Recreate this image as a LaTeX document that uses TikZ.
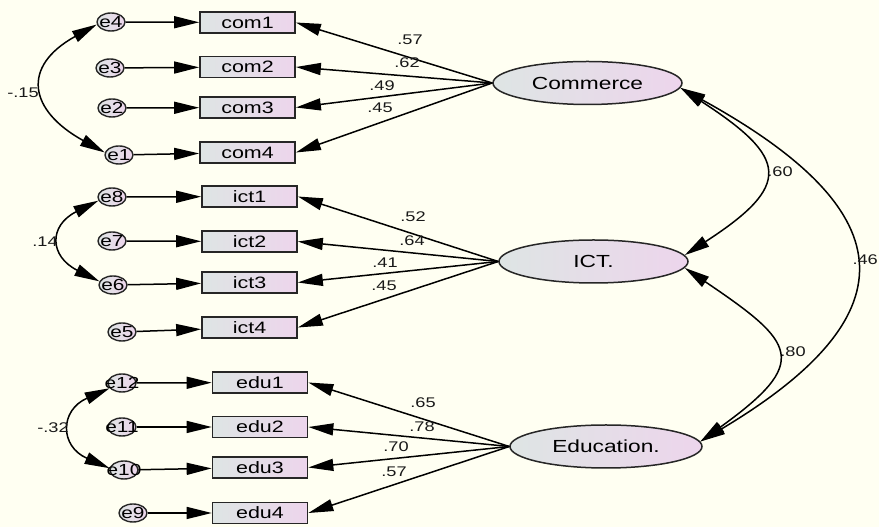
\documentclass[tikz,border=0pt]{standalone}
\usepackage{fontspec}
\setmainfont{Liberation Sans}[FakeStretch=1.3]
\usepackage{xcolor}
\usepackage{tikz}
\usetikzlibrary{shapes,arrows.meta}
\definecolor{bgcream}{RGB}{255,255,242}
\definecolor{fillgrey}{RGB}{222,229,228}
\definecolor{fillpink}{RGB}{237,213,236}
\tikzstyle{item} = [rectangle, draw=black!85, line width=1.7pt, left color=fillgrey, right color=fillpink, text=black, minimum width=95pt, minimum height=21pt, inner sep=0pt, font=\fontsize{16.5}{18}\selectfont]
\tikzstyle{latent} = [ellipse, draw=black!85, line width=1.5pt, left color=fillgrey, right color=fillpink, text=black, minimum width=189pt, minimum height=43pt, inner sep=0pt, font=\fontsize{17.5}{20}\selectfont]
\tikzstyle{err} = [ellipse, draw=black!85, line width=1.4pt, left color=fillgrey, right color=fillpink, text=black, minimum width=28pt, minimum height=18pt, inner sep=0pt, font=\fontsize{16}{18}\selectfont]
\tikzstyle{line} = [draw, line width=1.5pt, -{Triangle[length=25pt,width=12pt]}]
\tikzstyle{cov} = [draw, line width=1.5pt, {Triangle[length=25pt,width=12pt]}-{Triangle[length=25pt,width=12pt]}]
\tikzstyle{coef} = [text=black!90, inner sep=0pt, font=\fontsize{14}{16}\selectfont]

\begin{document}
\begin{tikzpicture}[x=1pt, y=1pt]
    \useasboundingbox (0,0) rectangle (879,527);
    \fill[bgcream] (0,0) rectangle (879,527);

    % commerce
    \node [item] (com1) at (247.5,504.5) {com1};
    \node [item] (com2) at (247.5,460) {com2};
    \node [item] (com3) at (247.5,419.5) {com3};
    \node [item] (com4) at (247.5,374.5) {com4};
    \node [err] (e4) at (111,505) {\makebox[0pt]{e4}};
    \node [err] (e3) at (110,459) {\makebox[0pt]{e3}};
    \node [err] (e2) at (112,419) {\makebox[0pt]{e2}};
    \node [err] (e1) at (119,372) {\makebox[0pt]{e1}};
    \node [latent] (commerce) at (587.5,444) {Commerce};

    % ict
    \node [item] (ict1) at (249.5,330.5) {ict1};
    \node [item] (ict2) at (249.5,285.5) {ict2};
    \node [item] (ict3) at (249.5,244.5) {ict3};
    \node [item] (ict4) at (249.5,199.5) {ict4};
    \node [err] (e8) at (112,330) {\makebox[0pt]{e8}};
    \node [err] (e7) at (112,286) {\makebox[0pt]{e7}};
    \node [err] (e6) at (113,242) {\makebox[0pt]{e6}};
    \node [err] (e5) at (122,195) {\makebox[0pt]{e5}};
    \node [latent] (ict) at (593.5,265.5) {ICT.};

    % education
    \node [item] (edu1) at (260,144.5) {edu1};
    \node [item] (edu2) at (260,100) {edu2};
    \node [item] (edu3) at (260,59.5) {edu3};
    \node [item] (edu4) at (260,14) {edu4};
    \node [err] (e12) at (122,144) {\makebox[0pt]{e12}};
    \node [err] (e11) at (122,100) {\makebox[0pt]{e11}};
    \node [err] (e10) at (124,57) {\makebox[0pt]{e10}};
    \node [err] (e9) at (133,14) {\makebox[0pt]{e9}};
    \node [latent, minimum width=192pt] (education) at (606,80.5) {Education.};

    \path [line] (e4) -- (com1);
    \path [line] (e3) -- (com2);
    \path [line] (e2) -- (com3);
    \path [line] (e1) -- (com4);
    \path [line] (commerce.west) -- (com1.east);
    \path [line] (commerce.west) -- (com2.east);
    \path [line] (commerce.west) -- (com3.east);
    \path [line] (commerce.west) -- (com4.east);

    \path [line] (e8) -- (ict1);
    \path [line] (e7) -- (ict2);
    \path [line] (e6) -- (ict3);
    \path [line] (e5) -- (ict4);
    \path [line] (ict.west) -- (ict1.east);
    \path [line] (ict.west) -- (ict2.east);
    \path [line] (ict.west) -- (ict3.east);
    \path [line] (ict.west) -- (ict4.east);

    \path [line] (e12) -- (edu1);
    \path [line] (e11) -- (edu2);
    \path [line] (e10) -- (edu3);
    \path [line] (e9) -- (edu4);
    \path [line] (education.west) -- (edu1.east);
    \path [line] (education.west) -- (edu2.east);
    \path [line] (education.west) -- (edu3.east);
    \path [line] (education.west) -- (edu4.east);

    % covariances
    \path [cov] (e4.190) .. controls +(-76,-42) and +(-76,42) .. (e1.170);
    \path [cov] (e8.195) .. controls +(-50,-25) and +(-50,25) .. (e6.165);
    \path [cov] (e12.203) .. controls +(-50,-22) and +(-50,22) .. (e10.173);
    \path [cov] (commerce.-3) .. controls +(108,-70) and +(108,70) .. (ict.4);
    \path [cov] (ict.-4) .. controls +(111,-75) and +(111,80) .. (education.3);
    \path [cov] (commerce.-3) .. controls +(218,-120) and +(218,130) .. (education.3);

    \node [coef] (lc1) at (410,487) {.57};
    \node [coef] (lc2) at (407,464) {.62};
    \node [coef] (lc3) at (382,441) {.49};
    \node [coef] (lc4) at (380,419) {.45};
    \node [coef] (li1) at (413,310) {.52};
    \node [coef] (li2) at (412,286) {.64};
    \node [coef] (li3) at (385,264) {.41};
    \node [coef] (li4) at (384,241) {.45};
    \node [coef] (le1) at (423,124) {.65};
    \node [coef] (le2) at (422,100) {.78};
    \node [coef] (le3) at (396,80) {.70};
    \node [coef] (le4) at (394,55) {.57};
    \node [coef] (lcom) at (23,434) {-.15};
    \node [coef] (lict) at (45,285) {.14};
    \node [coef] (ledu) at (53,99) {-.32};
    \node [coef] (lci) at (780,355) {.60};
    \node [coef] (lie) at (793,175) {.80};
    \node [coef, anchor=east] (lce) at (878,267) {.46};
  \end{tikzpicture}
\end{document}
